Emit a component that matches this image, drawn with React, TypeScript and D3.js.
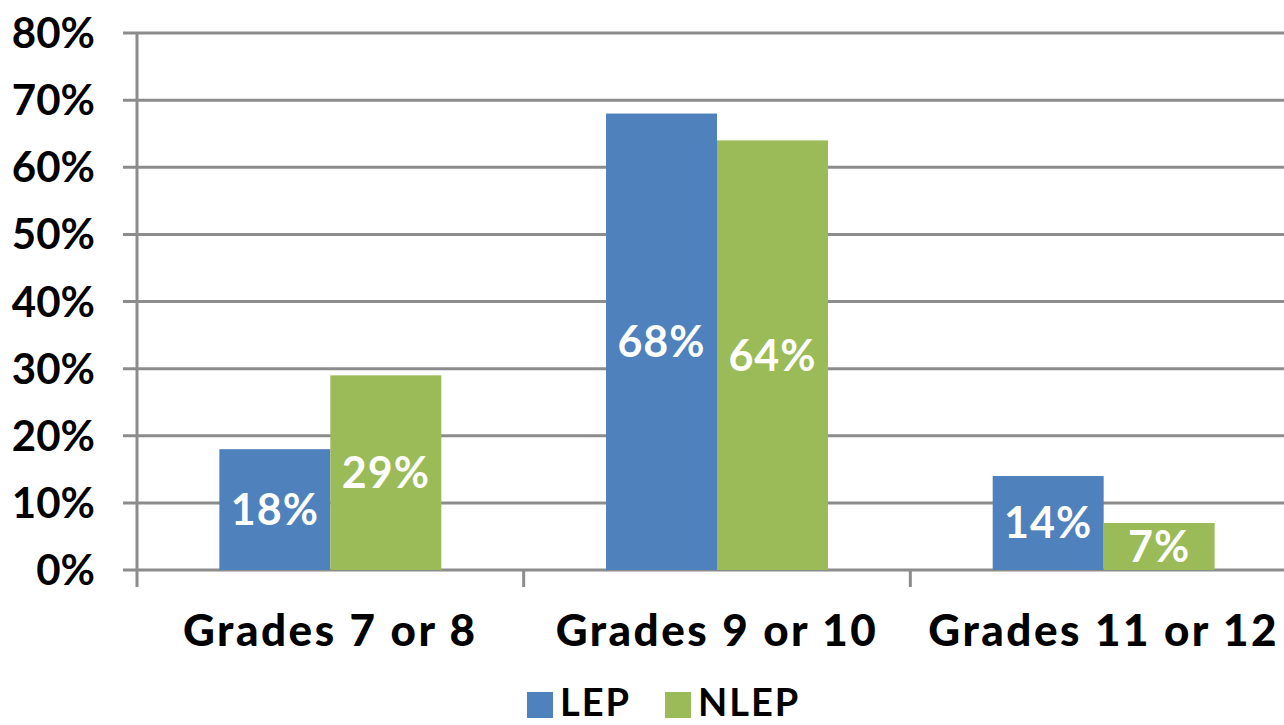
import * as d3 from "d3";
import { useEffect } from "react";

const categories = ["Grades 7 or 8", "Grades 9 or 10", "Grades 11 or 12"];
const seriesNames = ["LEP", "NLEP"];
const lepValues = [18, 68, 14];
const nlepValues = [29, 64, 7];
const yTicks = [0, 10, 20, 30, 40, 50, 60, 70, 80];

const colors = ["#4F81BD", "#9BBB59"];
const gridColor = "#8C8C8C";
const font = "Lato, 'Open Sans', sans-serif";

const W = 1284;
const H = 725;
const margin = { top: 33, right: -13, bottom: 155, left: 137 };

export default function App() {
  useEffect(() => {
    document.body.style.margin = "0";
  }, []);

  const innerW = W - margin.left - margin.right;
  const innerH = H - margin.top - margin.bottom;

  const x0 = d3.scaleBand<string>().domain(categories).range([0, innerW]);
  const groupW = x0.bandwidth() * 0.574;
  const x1 = d3
    .scaleBand<string>()
    .domain(seriesNames)
    .range([0, groupW]);
  const y = d3.scaleLinear().domain([0, 80]).range([innerH, 0]);

  const series = [lepValues, nlepValues];

  return (
    <svg width={W} height={H} style={{ display: "block" }}>
      <g transform={`translate(${margin.left},${margin.top})`}>
        {/* gridlines and y labels */}
        {yTicks.map((t) => (
          <g key={t}>
            <line
              x1={-14}
              x2={innerW}
              y1={y(t)}
              y2={y(t)}
              stroke={gridColor}
              strokeWidth={3}
            />
            <text
              x={-42}
              y={y(t)}
              dy="0.36em"
              textAnchor="end"
              fontFamily={font}
              fontWeight={700}
              fontSize={42}
              fill="#000"
            >
              {t}%
            </text>
          </g>
        ))}
        {/* vertical axis */}
        <line
          x1={0}
          x2={0}
          y1={0}
          y2={innerH + 17}
          stroke={gridColor}
          strokeWidth={3}
        />
        {/* category ticks */}
        {categories.slice(1).map((c) => (
          <line
            key={c}
            x1={x0(c)!}
            x2={x0(c)!}
            y1={innerH}
            y2={innerH + 17}
            stroke={gridColor}
            strokeWidth={3}
          />
        ))}
        {/* bars */}
        {categories.map((c, i) => {
          const gx = x0(c)! + (x0.bandwidth() - groupW) / 2;
          return (
            <g key={c} transform={`translate(${gx},0)`}>
              {seriesNames.map((s, j) => {
                const v = series[j][i];
                const bx = x1(s)!;
                const by = y(v);
                return (
                  <g key={s}>
                    <rect
                      x={bx}
                      y={by}
                      width={x1.bandwidth()}
                      height={innerH - by}
                      fill={colors[j]}
                    />
                    <text
                      x={bx + x1.bandwidth() / 2}
                      y={(by + innerH) / 2}
                      dy="0.36em"
                      textAnchor="middle"
                      fontFamily={font}
                      fontWeight={700}
                      fontSize={43}
                      letterSpacing={1}
                      fill="#fff"
                    >
                      {v}%
                    </text>
                  </g>
                );
              })}
            </g>
          );
        })}
        {/* category labels */}
        {categories.map((c) => (
          <text
            key={c}
            x={x0(c)! + x0.bandwidth() / 2}
            y={innerH + 76}
            textAnchor="middle"
            fontFamily={font}
            fontWeight={900}
            fontSize={44}
            letterSpacing={2.5}
            fill="#000"
          >
            {c}
          </text>
        ))}
      </g>
      {/* legend */}
      <g transform="translate(527,692)">
        {seriesNames.map((s, j) => (
          <g key={s} transform={`translate(${j * 138},0)`}>
            <rect width={26} height={26} fill={colors[j]} />
            <text
              x={33}
              y={24}
              fontFamily={font}
              fontWeight={700}
              fontSize={38}
              letterSpacing={2}
              fill="#000"
            >
              {s}
            </text>
          </g>
        ))}
      </g>
    </svg>
  );
}
